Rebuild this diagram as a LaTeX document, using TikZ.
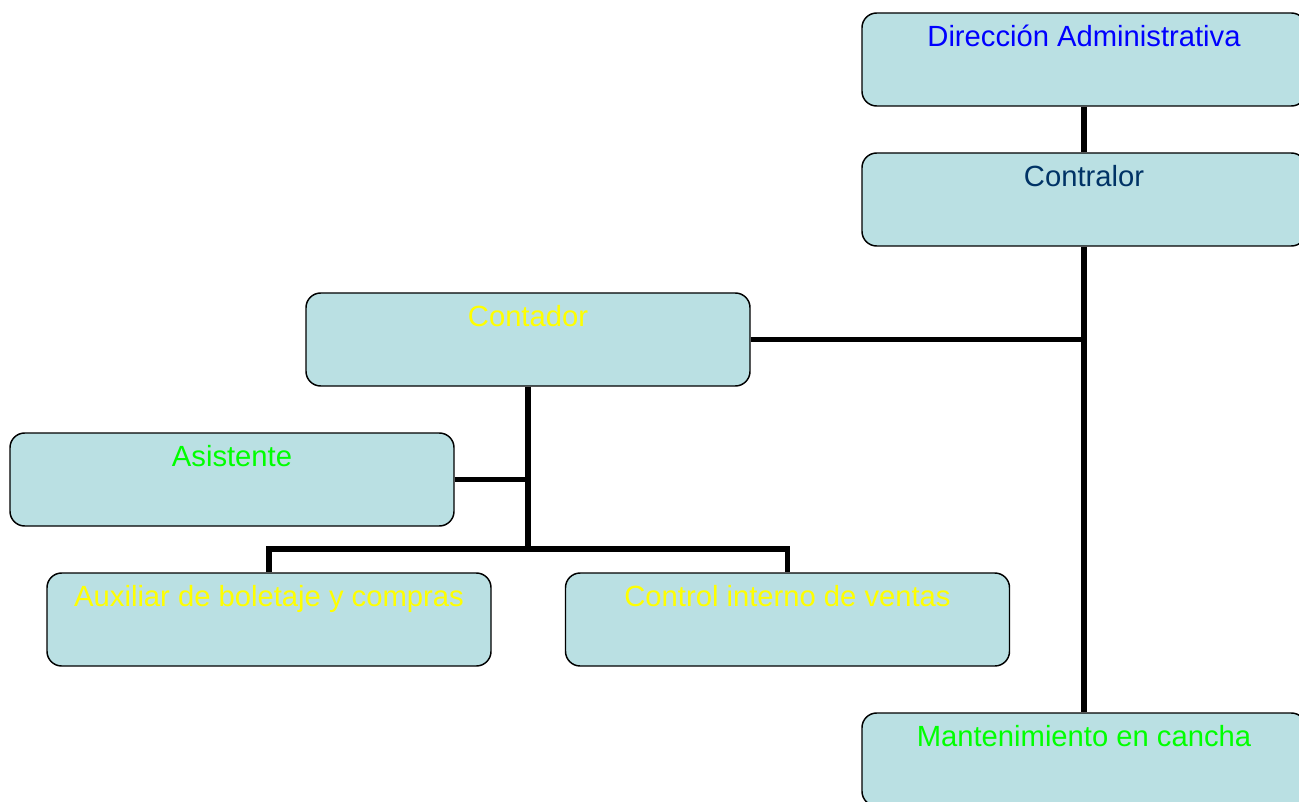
\documentclass[tikz,border=0pt]{standalone}
\usepackage{fontspec}
\setmainfont{Liberation Sans}
\definecolor{boxfill}{HTML}{BAE0E3}
\definecolor{navy}{HTML}{003366}
\definecolor{ylw}{HTML}{FFFF00}
\definecolor{grn}{HTML}{00FF00}
\definecolor{blu}{HTML}{0000FF}
\tikzset{
  orgbox/.style={draw=black, line width=1.1pt, fill=boxfill, rounded corners=11pt,
    minimum width=333pt, minimum height=69.75pt, inner sep=0pt},
  orgtxt/.style={anchor=base, inner sep=0pt, font=\fontsize{21.9}{26}\selectfont},
  link/.style={draw=black, line width=4pt}
}
\begin{document}
\begin{tikzpicture}[x=0.75pt,y=-0.75pt]
\useasboundingbox (0,0) rectangle (1299,802);
\clip (0,0) rectangle (1299,802);
% boxes
\node[orgbox] (dir)  at (1084,59.5) {};
\node[orgbox] (con)  at (1084,199.5) {};
\node[orgbox] (cont) at (528,339.5) {};
\node[orgbox] (asis) at (232,479.5) {};
\node[orgbox] (aux)  at (269,619.5) {};
\node[orgbox] (ctrl) at (787.5,619.5) {};
\node[orgbox] (mant) at (1084,759.5) {};
% connectors
\coordinate (j) at (528,549);
\path[link] (dir.south) -- (con.north);
\path[link] (con.south) -- (mant.north);
\path[link] (cont.east) -- (cont.east -| con.south);
\path[link] (cont.south) -- (j);
\path[link] (asis.east) -- (asis.east -| cont.south);
\path[link] (aux.north) -- (aux.north |- j) -- (ctrl.north |- j) -- (ctrl.north);
% texts
\node[orgtxt, text=blu]  (tdir)  at ([yshift=-34*0.75pt]dir.north) {Dirección Administrativa};
\node[orgtxt, text=navy] (tcon)  at ([yshift=-34*0.75pt]con.north) {Contralor};
\node[orgtxt, text=ylw]  (tcont) at ([yshift=-34*0.75pt]cont.north) {Contador};
\node[orgtxt, text=grn]  (tasis) at ([yshift=-34*0.75pt]asis.north) {Asistente};
\node[orgtxt, text=ylw]  (taux)  at ([yshift=-34*0.75pt]aux.north) {Auxiliar de boletaje y compras};
\node[orgtxt, text=ylw]  (tctrl) at ([yshift=-34*0.75pt]ctrl.north) {Control interno de ventas};
\node[orgtxt, text=grn]  (tmant) at ([yshift=-34*0.75pt]mant.north) {Mantenimiento en cancha};
\end{tikzpicture}
\end{document}
